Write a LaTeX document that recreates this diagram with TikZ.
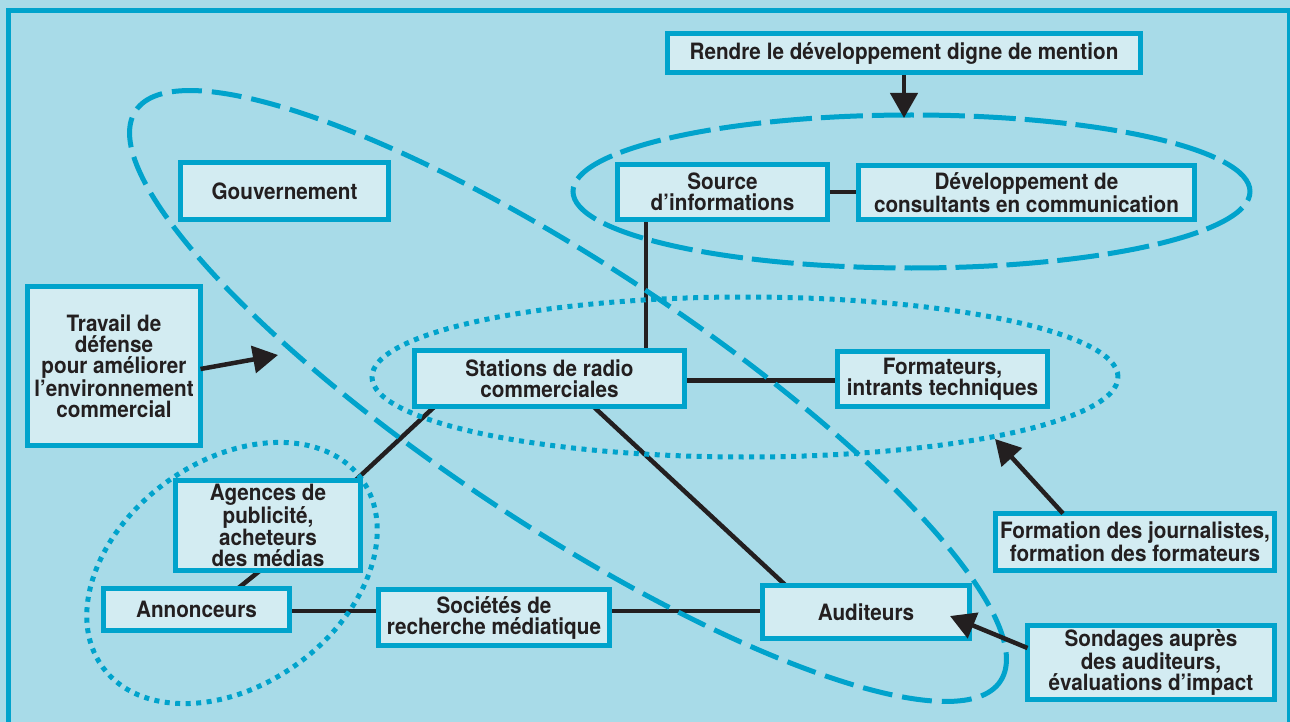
\documentclass[tikz,border=0pt]{standalone}
\usepackage{fontspec}
\setmainfont[FakeStretch=0.92]{TeX Gyre Heros}
\usetikzlibrary{arrows.meta,calc,backgrounds}
\definecolor{bg}{HTML}{A8DBE8}
\definecolor{cy}{HTML}{00A3CC}
\definecolor{bx}{HTML}{D3ECF2}
\definecolor{ink}{HTML}{231F20}
\begin{document}
\begin{tikzpicture}[x=1pt,y=-1pt,
  box/.style={draw=cy, line width=5pt, fill=bx, text=ink, font=\fontsize{22.5}{21}\selectfont\bfseries, align=center, inner sep=0pt},
  link/.style={draw=ink, line width=4.5pt},
  arr/.style={draw=ink, line width=4.5pt, -{Triangle[length=25pt,width=27pt]}},
  bigdash/.style={draw=cy, line width=5pt, dash pattern=on 30pt off 10pt},
  topdash/.style={draw=cy, line width=5pt, dash pattern=on 42pt off 9pt},
  dotty/.style={draw=cy, line width=5pt, dash pattern=on 5pt off 5.5pt},
]
\useasboundingbox (0,0) rectangle (1290,722);

\node[box, minimum width=473pt, minimum height=39pt] (rendre) at (904,53) {Rendre le développement digne de mention};
\node[box, minimum width=210pt, minimum height=55pt] (source) at (722.5,192) {Source\\d’informations};
\node[box, minimum width=336pt, minimum height=54pt] (devel) at (1026.5,192.5) {Développement de\\consultants en communication};
\node[box, minimum width=208pt, minimum height=57pt] (gouv) at (284.5,191) {Gouvernement};
\node[box, minimum width=173pt, minimum height=159pt] (travail) at (114,366) {Travail de\\défense\\pour améliorer\\l’environnement\\commercial};
\node[box, minimum width=270pt, minimum height=56pt] (stations) at (549.5,378.5) {Stations de radio\\commerciales};
\node[box, minimum width=210pt, minimum height=55pt] (formateurs) at (942.5,379) {Formateurs,\\intrants techniques};
\node[box, minimum width=185pt, minimum height=90pt] (agences) at (268,525.5) {Agences de\\publicité,\\acheteurs\\des médias};
\node[box, minimum width=186pt, minimum height=42pt] (annonceurs) at (196.5,609.5) {Annonceurs};
\node[box, minimum width=231pt, minimum height=56pt] (societes) at (494,617.5) {Sociétés de\\recherche médiatique};
\node[box, minimum width=207pt, minimum height=53pt] (auditeurs) at (866,612) {Auditeurs};
\node[box, minimum width=247pt, minimum height=74pt] (sondages) at (1151,662.5) {Sondages auprès\\des auditeurs,\\évaluations d’impact};
\node[box, minimum width=279pt, minimum height=57pt] (formation) at (1135,542) {Formation des journalistes,\\formation des formateurs};

\begin{scope}[on background layer]
  \fill[bg] (0,0) rectangle (1290,722);
  \draw[cy, line width=5pt] (8.5,10.8) rectangle (1289.8,760);
  % connectors
  \draw[link] (source.center) -- (source.center -| devel.west);
  \draw[link] ($(source.center)+(-76.5,0)$) -- ($(source.center)+(-76.5,186.5)$);
  \draw[link] ($(stations.center)+(0,2)$) -- ($(formateurs.center)+(0,1.5)$);
  \draw[link] ($(stations.center)+(-110.1,23.6)$) -- ($(agences.center)+(82.6,-40.6)$);
  \draw[link] ($(stations.center)+(36.1,20.8)$) -- ($(auditeurs.center)+(-74.6,-21.3)$);
  \draw[link] ($(agences.center)+(-6,43.5)$) -- ($(annonceurs.center)+(39.5,-19.5)$);
  \draw[link] ($(annonceurs.center)+(0,1.5)$) -- ($(societes.center)+(0,-6.5)$);
  \draw[link] ($(societes.center)+(0,-6.5)$) -- ($(auditeurs.center)+(0,-1)$);
  % groupings
  \draw[bigdash, rotate around={-33.4:(568,396)}] (568,396) ellipse [x radius=518pt, y radius=131pt];
  \draw[topdash] (911.5,191.5) ellipse [x radius=338.5pt, y radius=76.5pt];
  \draw[dotty] (745,377) ellipse [x radius=373pt, y radius=80pt];
  \draw[dotty, rotate around={36:(232,573)}] (232,573) ellipse [x radius=160pt, y radius=112pt];
\end{scope}

\coordinate (rtip) at (904,118);
\coordinate (ttip) at (278,355);
\coordinate (ftip) at (995,439);
\coordinate (stip) at (950,616);
\draw[arr] (rendre.south) -- (rtip);
\draw[arr] ($(travail.center)+(86.5,3)$) -- (ttip);
\draw[arr] ($(formation.center)+(-72,-28.5)$) -- (ftip);
\draw[arr] ($(sondages.center)+(-123.5,-14.5)$) -- (stip);
\end{tikzpicture}
\end{document}
